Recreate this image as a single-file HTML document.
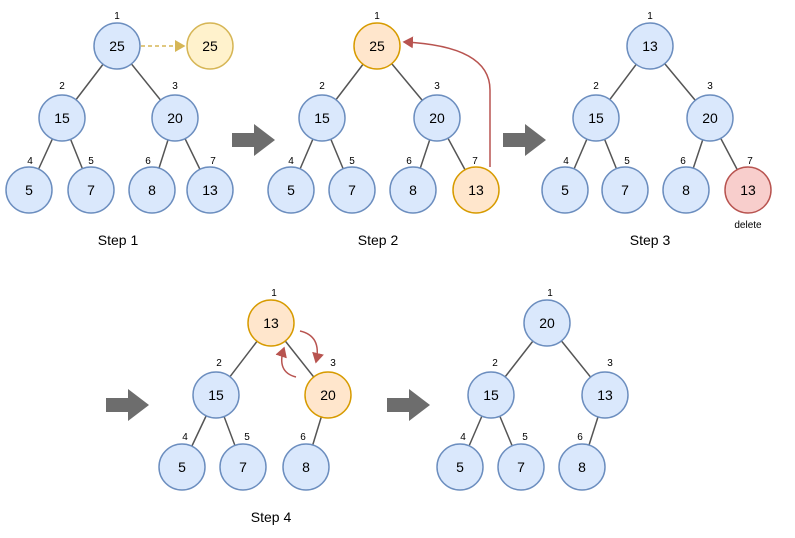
<!DOCTYPE html>
<html><head><meta charset="utf-8"><style>
html,body{margin:0;padding:0;background:#fff;}
text{font-family:"Liberation Sans",Helvetica,sans-serif;}
.b{fill:#dae8fc;stroke:#6c8ebf;stroke-width:1.5}
.o{fill:#ffe6cc;stroke:#d79b00;stroke-width:1.5}
.y{fill:#fff2cc;stroke:#d6b656;stroke-width:1.5}
.r{fill:#f8cecc;stroke:#b85450;stroke-width:1.5}
.v{font-size:14px;text-anchor:middle;dominant-baseline:central;fill:#000}
.i{font-size:10px;text-anchor:middle;fill:#000}
.s{font-size:14px;text-anchor:middle;fill:#000}
line{stroke:#555;stroke-width:1.5}
.ar{fill:#6d6d6d}
</style></head><body>
<svg width="795" height="533" viewBox="0 0 795 533" xmlns="http://www.w3.org/2000/svg">
<defs>
<marker id="ry" markerWidth="8" markerHeight="8" refX="6" refY="4" orient="auto"><path d="M0,0 L7,4 L0,8 Z" fill="#d6b656"/></marker>
<marker id="rr" markerWidth="8" markerHeight="8" refX="6" refY="4" orient="auto"><path d="M0,0 L7,4 L0,8 Z" fill="#b85450"/></marker>
</defs>
<!-- Step 1 -->
<line x1="117" y1="46" x2="62" y2="118"/><line x1="117" y1="46" x2="175" y2="118"/>
<line x1="62" y1="118" x2="29" y2="190"/><line x1="62" y1="118" x2="91" y2="190"/>
<line x1="175" y1="118" x2="152" y2="190"/><line x1="175" y1="118" x2="210" y2="190"/>
<line x1="141" y1="46" x2="184" y2="46" style="stroke:#d6b656;stroke-dasharray:4,3" marker-end="url(#ry)"/>
<circle class="b" cx="117" cy="46" r="23"/><text class="v" x="117" y="46">25</text>
<circle class="y" cx="210" cy="46" r="23"/><text class="v" x="210" y="46">25</text>
<circle class="b" cx="62" cy="118" r="23"/><text class="v" x="62" y="118">15</text>
<circle class="b" cx="175" cy="118" r="23"/><text class="v" x="175" y="118">20</text>
<circle class="b" cx="29" cy="190" r="23"/><text class="v" x="29" y="190">5</text>
<circle class="b" cx="91" cy="190" r="23"/><text class="v" x="91" y="190">7</text>
<circle class="b" cx="152" cy="190" r="23"/><text class="v" x="152" y="190">8</text>
<circle class="b" cx="210" cy="190" r="23"/><text class="v" x="210" y="190">13</text>
<text class="i" x="117" y="19">1</text><text class="i" x="62" y="89">2</text><text class="i" x="175" y="89">3</text>
<text class="i" x="30" y="164">4</text><text class="i" x="91" y="164">5</text><text class="i" x="148" y="164">6</text><text class="i" x="213" y="164">7</text>
<text class="s" x="118" y="245">Step 1</text>
<path class="ar" d="M232,133 H254 V124 L275,140 L254,156 V147 H232 Z"/>
<!-- Step 2 -->
<line x1="377" y1="46" x2="322" y2="118"/><line x1="377" y1="46" x2="437" y2="118"/>
<line x1="322" y1="118" x2="291" y2="190"/><line x1="322" y1="118" x2="352" y2="190"/>
<line x1="437" y1="118" x2="413" y2="190"/><line x1="437" y1="118" x2="476" y2="190"/>
<path d="M490,167 V90 Q490,46 404,42" fill="none" stroke="#b85450" stroke-width="1.5" marker-end="url(#rr)"/>
<circle class="o" cx="377" cy="46" r="23"/><text class="v" x="377" y="46">25</text>
<circle class="b" cx="322" cy="118" r="23"/><text class="v" x="322" y="118">15</text>
<circle class="b" cx="437" cy="118" r="23"/><text class="v" x="437" y="118">20</text>
<circle class="b" cx="291" cy="190" r="23"/><text class="v" x="291" y="190">5</text>
<circle class="b" cx="352" cy="190" r="23"/><text class="v" x="352" y="190">7</text>
<circle class="b" cx="413" cy="190" r="23"/><text class="v" x="413" y="190">8</text>
<circle class="o" cx="476" cy="190" r="23"/><text class="v" x="476" y="190">13</text>
<text class="i" x="377" y="19">1</text><text class="i" x="322" y="89">2</text><text class="i" x="437" y="89">3</text>
<text class="i" x="291" y="164">4</text><text class="i" x="352" y="164">5</text><text class="i" x="409" y="164">6</text><text class="i" x="475" y="164">7</text>
<text class="s" x="378" y="245">Step 2</text>
<path class="ar" d="M503,133 H525 V124 L546,140 L525,156 V147 H503 Z"/>
<!-- Step 3 -->
<line x1="650" y1="46" x2="596" y2="118"/><line x1="650" y1="46" x2="710" y2="118"/>
<line x1="596" y1="118" x2="565" y2="190"/><line x1="596" y1="118" x2="625" y2="190"/>
<line x1="710" y1="118" x2="686" y2="190"/><line x1="710" y1="118" x2="748" y2="190"/>
<circle class="b" cx="650" cy="46" r="23"/><text class="v" x="650" y="46">13</text>
<circle class="b" cx="596" cy="118" r="23"/><text class="v" x="596" y="118">15</text>
<circle class="b" cx="710" cy="118" r="23"/><text class="v" x="710" y="118">20</text>
<circle class="b" cx="565" cy="190" r="23"/><text class="v" x="565" y="190">5</text>
<circle class="b" cx="625" cy="190" r="23"/><text class="v" x="625" y="190">7</text>
<circle class="b" cx="686" cy="190" r="23"/><text class="v" x="686" y="190">8</text>
<circle class="r" cx="748" cy="190" r="23"/><text class="v" x="748" y="190">13</text>
<text class="i" x="650" y="19">1</text><text class="i" x="596" y="89">2</text><text class="i" x="710" y="89">3</text>
<text class="i" x="566" y="164">4</text><text class="i" x="627" y="164">5</text><text class="i" x="683" y="164">6</text><text class="i" x="750" y="164">7</text>
<text class="i" x="748" y="228">delete</text>
<text class="s" x="650" y="245">Step 3</text>
<!-- Step 4 -->
<path class="ar" d="M106,398 H128 V389 L149,405 L128,421 V412 H106 Z"/>
<line x1="271" y1="323" x2="216" y2="395"/><line x1="271" y1="323" x2="328" y2="395"/>
<line x1="216" y1="395" x2="182" y2="467"/><line x1="216" y1="395" x2="243" y2="467"/>
<line x1="328" y1="395" x2="306" y2="467"/>
<path d="M300,331 Q322,336 316,362" fill="none" stroke="#b85450" stroke-width="1.5" marker-end="url(#rr)"/>
<path d="M296,377 Q276,372 284,348" fill="none" stroke="#b85450" stroke-width="1.5" marker-end="url(#rr)"/>
<circle class="o" cx="271" cy="323" r="23"/><text class="v" x="271" y="323">13</text>
<circle class="b" cx="216" cy="395" r="23"/><text class="v" x="216" y="395">15</text>
<circle class="o" cx="328" cy="395" r="23"/><text class="v" x="328" y="395">20</text>
<circle class="b" cx="182" cy="467" r="23"/><text class="v" x="182" y="467">5</text>
<circle class="b" cx="243" cy="467" r="23"/><text class="v" x="243" y="467">7</text>
<circle class="b" cx="306" cy="467" r="23"/><text class="v" x="306" y="467">8</text>
<text class="i" x="274" y="296">1</text><text class="i" x="219" y="366">2</text><text class="i" x="333" y="366">3</text>
<text class="i" x="185" y="440">4</text><text class="i" x="247" y="440">5</text><text class="i" x="303" y="440">6</text>
<text class="s" x="271" y="522">Step 4</text>
<path class="ar" d="M387,398 H409 V389 L430,405 L409,421 V412 H387 Z"/>
<!-- Final -->
<line x1="547" y1="323" x2="491" y2="395"/><line x1="547" y1="323" x2="605" y2="395"/>
<line x1="491" y1="395" x2="460" y2="467"/><line x1="491" y1="395" x2="521" y2="467"/>
<line x1="605" y1="395" x2="582" y2="467"/>
<circle class="b" cx="547" cy="323" r="23"/><text class="v" x="547" y="323">20</text>
<circle class="b" cx="491" cy="395" r="23"/><text class="v" x="491" y="395">15</text>
<circle class="b" cx="605" cy="395" r="23"/><text class="v" x="605" y="395">13</text>
<circle class="b" cx="460" cy="467" r="23"/><text class="v" x="460" y="467">5</text>
<circle class="b" cx="521" cy="467" r="23"/><text class="v" x="521" y="467">7</text>
<circle class="b" cx="582" cy="467" r="23"/><text class="v" x="582" y="467">8</text>
<text class="i" x="550" y="296">1</text><text class="i" x="495" y="366">2</text><text class="i" x="610" y="366">3</text>
<text class="i" x="463" y="440">4</text><text class="i" x="525" y="440">5</text><text class="i" x="580" y="440">6</text>
</svg>
</body></html>
